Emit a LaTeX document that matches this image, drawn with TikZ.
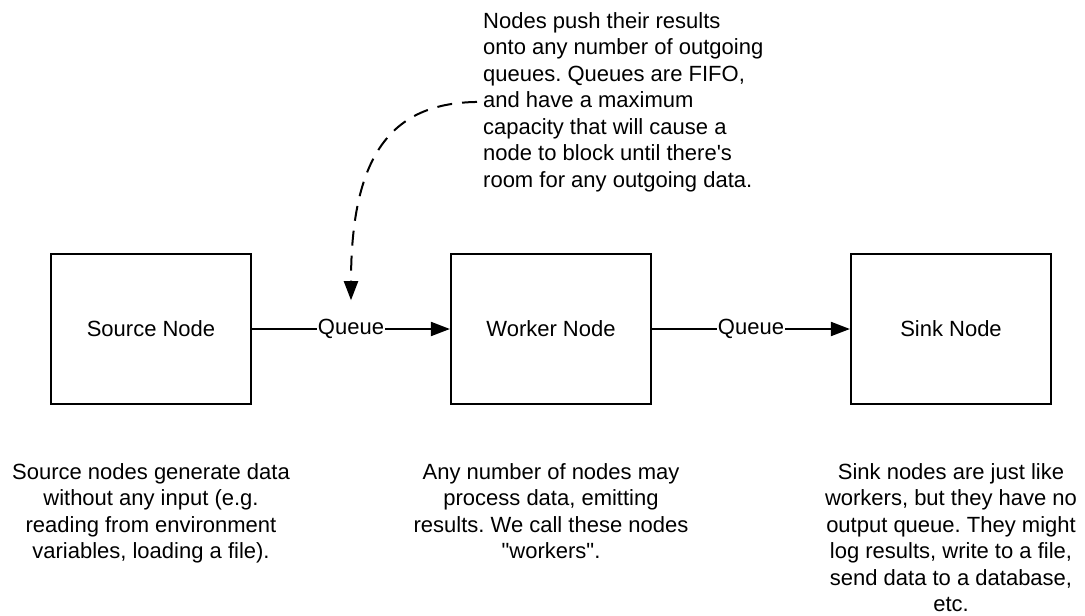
\documentclass[tikz,border=0pt]{standalone}
\usepackage{fontspec}
\setmainfont{Liberation Sans}
\usetikzlibrary{arrows.meta,positioning}
\frenchspacing

\begin{document}
\begin{tikzpicture}[x=1pt,y=-1pt,
    font=\fontsize{22}{26.5}\selectfont,
    nodebox/.style={draw,line width=2.2pt,minimum width=200pt,minimum height=150pt},
    note/.style={inner sep=0pt,align=center,anchor=north},
    link/.style={line width=2pt,-{Triangle[length=19pt,width=14pt]}},
    queue/.style={fill=white,inner sep=1pt}]
  \useasboundingbox (0,0) rectangle (1085,616);
  % the three stages
  \node[nodebox] (source) at (151,329) {Source Node};
  \node[nodebox] (worker) at (551,329) {Worker Node};
  \node[nodebox] (sink) at (951,329) {Sink Node};
  \draw[link] (source) -- node[queue] (q1) {Queue} (worker);
  \draw[link] (worker) -- node[queue] (q2) {Queue} (sink);
  % notes
  \node[note,anchor=north west,align=left] (queuenote) at (483,12)
    {Nodes push their results\\onto any number of outgoing\\queues. Queues are FIFO,\\and have a maximum\\capacity that will cause a\\node to block until there\textquotesingle s\\room for any outgoing data.};
  \node[note,below=58pt of source] (sourcenote)
    {Source nodes generate data\\without any input (e.g.\\reading from environment\\variables, loading a file).};
  \node[note,below=58pt of worker] (workernote)
    {Any number of nodes may\\process data, emitting\\results. We call these nodes\\\textquotedbl workers\textquotedbl .};
  \node[note,below=58pt of sink] (sinknote)
    {Sink nodes are just like\\workers, but they have no\\output queue. They might\\log results, write to a file,\\send data to a database,\\etc.};
  \draw[link,dash pattern=on 15pt off 10pt] ([xshift=-6pt]queuenote.west)
    .. controls (395,103) and (351,150) .. ([yshift=17pt]q1.north);
\end{tikzpicture}
\end{document}
